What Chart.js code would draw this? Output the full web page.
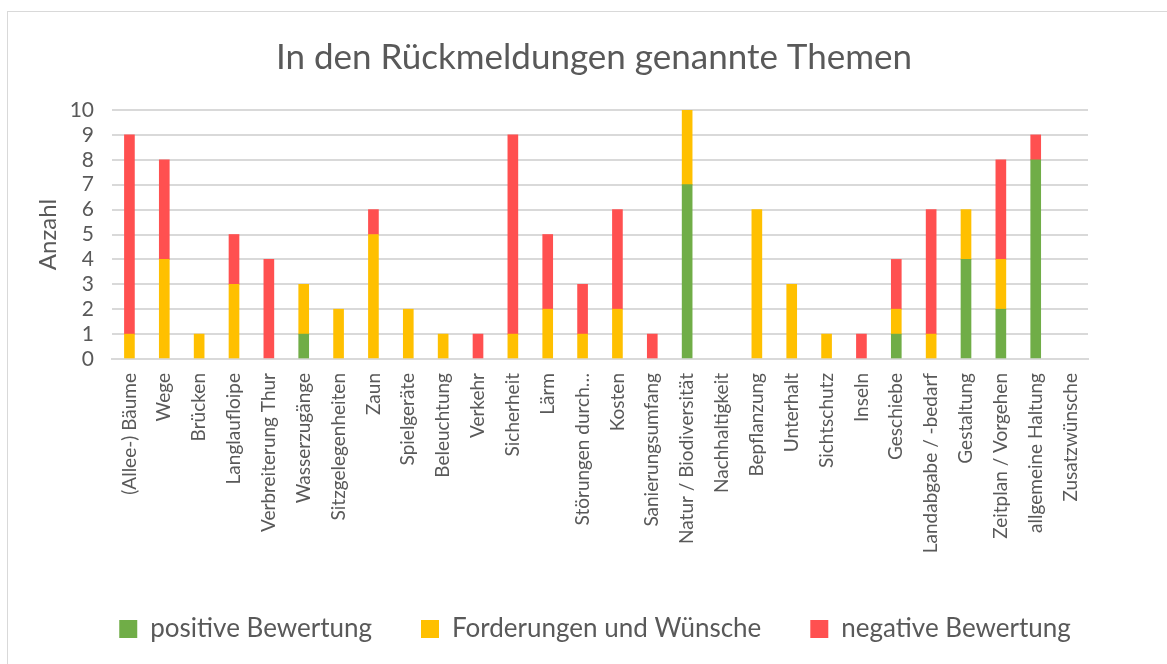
<!DOCTYPE html>
<html lang="de">
<head>
<meta charset="UTF-8">
<title>In den Rückmeldungen genannte Themen</title>
<script src="https://cdn.jsdelivr.net/npm/chart.js"></script>
<style>
  body {
    margin: 0;
    padding: 0;
    overflow: hidden;
    background: #fff;
  }
  .frame {
    position: absolute;
    left: 7px;
    top: 11px;
    width: 1200px;
    height: 700px;
    border: 1px solid #d9d9d9;
  }
  .chart-box {
    position: absolute;
    left: 0;
    top: 0;
    width: 1167px;
    height: 664px;
  }
</style>
</head>
<body>
<div class="frame"></div>
<div class="chart-box">
  <canvas id="themen-chart" width="1167" height="664"></canvas>
</div>
<script>
  const themen = [
    '(Allee-) Bäume', 'Wege', 'Brücken', 'Langlaufloipe', 'Verbreiterung Thur',
    'Wasserzugänge', 'Sitzgelegenheiten', 'Zaun', 'Spielgeräte', 'Beleuchtung',
    'Verkehr', 'Sicherheit', 'Lärm', 'Störungen durch…', 'Kosten',
    'Sanierungsumfang', 'Natur / Biodiversität', 'Nachhaltigkeit', 'Bepflanzung', 'Unterhalt',
    'Sichtschutz', 'Inseln', 'Geschiebe', 'Landabgabe / -bedarf', 'Gestaltung',
    'Zeitplan / Vorgehen', 'allgemeine Haltung', 'Zusatzwünsche'
  ];
  const positiv   = [0, 0, 0, 0, 0, 1, 0, 0, 0, 0, 0, 0, 0, 0, 0, 0, 7, 0, 0, 0, 0, 0, 1, 0, 4, 2, 8, 0];
  const wuensche  = [1, 4, 1, 3, 0, 2, 2, 5, 2, 1, 0, 1, 2, 1, 2, 0, 3, 0, 6, 3, 1, 0, 1, 1, 2, 2, 0, 0];
  const negativ   = [8, 4, 0, 2, 4, 0, 0, 1, 0, 0, 1, 8, 3, 2, 4, 1, 0, 0, 0, 0, 0, 1, 2, 5, 0, 4, 1, 0];
  const yTicks = [0, 1, 2, 3, 4, 5, 6, 7, 8, 9, 10];

  const textGrey = '#595959';
  const fontName = 'Lato, "Open Sans", sans-serif';

  // empty segments are left out so no hairline is drawn at 0
  const skipZero = arr => arr.map(v => v === 0 ? null : v);

  // title and legend sit centred on the whole frame, not on the plot area
  const shiftBlocks = {
    id: 'shiftBlocks',
    afterLayout(chart) {
      if (chart.titleBlock) {
        chart.titleBlock.left += 35;
        chart.titleBlock.right += 35;
      }
      if (chart.legend) {
        chart.legend.left += 36;
        chart.legend.right += 36;
      }
    }
  };

  var ctx = document.getElementById('themen-chart').getContext('2d');
  var chart = new Chart(ctx, {
    type: 'bar',
    data: {
      labels: themen,
      datasets: [{
        label: 'positive Bewertung',
        data: skipZero(positiv),
        backgroundColor: '#70AD47'
      }, {
        label: 'Forderungen und Wünsche',
        data: skipZero(wuensche),
        backgroundColor: '#FFC000'
      }, {
        label: 'negative Bewertung',
        data: skipZero(negativ),
        backgroundColor: '#FF5050'
      }]
    },
    plugins: [shiftBlocks],
    options: {
      responsive: false,
      animation: false,
      layout: {
        padding: { top: 37, left: 30, right: 79, bottom: 12 }
      },
      datasets: {
        bar: { barThickness: 10 }
      },
      plugins: {
        title: {
          display: true,
          text: 'In den Rückmeldungen genannte Themen',
          color: textGrey,
          font: { family: fontName, size: 35, weight: 'normal' },
          padding: { top: 0, bottom: 31 }
        },
        legend: {
          position: 'bottom',
          labels: {
            color: textGrey,
            font: { family: fontName, size: 26 },
            boxWidth: 18,
            boxHeight: 18,
            padding: 49
          }
        },
        tooltip: { enabled: false }
      },
      scales: {
        x: {
          stacked: true,
          grid: { display: false },
          border: { color: '#d9d9d9', width: 2 },
          ticks: {
            color: textGrey,
            font: { family: fontName, size: 19 },
            minRotation: 90,
            maxRotation: 90,
            autoSkip: false,
            padding: 6
          },
          afterFit: function(scale) { scale.height = 208; }
        },
        y: {
          stacked: true,
          min: 0,
          max: 10,
          afterBuildTicks: function(scale) {
            scale.ticks = yTicks.map(v => ({ value: v }));
          },
          grid: { color: '#d9d9d9', lineWidth: 2, drawTicks: false },
          border: { display: false },
          ticks: {
            color: textGrey,
            font: { family: fontName, size: 21 },
            padding: 18,
            autoSkip: false
          },
          title: {
            display: true,
            text: 'Anzahl',
            color: textGrey,
            font: { family: fontName, size: 24 }
          },
          afterFit: function(scale) { scale.width = 82; }
        }
      }
    }
  });
</script>
</body>
</html>
